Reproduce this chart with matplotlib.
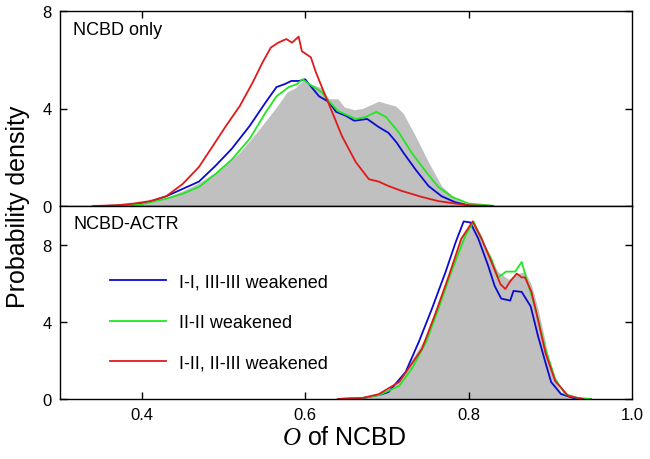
import matplotlib
matplotlib.use("Agg")
import matplotlib.pyplot as plt

plt.rcParams["font.family"] = ["Liberation Sans", "DejaVu Sans"]
plt.rcParams["mathtext.fontset"] = "custom"
plt.rcParams["mathtext.it"] = "Liberation Serif:italic"
plt.rcParams["mathtext.rm"] = "Liberation Sans"

GRAY = "#c0c0c0"
BLUE = "#0a0ad0"
GREEN = "#22e622"
RED = "#e01a1a"

# --- NCBD only (top panel) ---
top_gray_x = [0.36, 0.38, 0.40, 0.42, 0.45, 0.47, 0.49, 0.52, 0.544, 0.565, 0.578, 0.588, 0.597,
              0.607, 0.62, 0.629, 0.64, 0.648, 0.66, 0.67, 0.68, 0.69, 0.70, 0.711, 0.72, 0.735,
              0.751, 0.767, 0.784, 0.80, 0.82]
top_gray_y = [0, 0.02, 0.08, 0.22, 0.62, 0.95, 1.39, 2.2, 3.16, 4.06, 4.68, 4.85, 5.15,
              5.0, 4.85, 4.4, 4.4, 4.06, 3.95, 4.0, 4.15, 4.3, 4.2, 4.1, 3.8, 2.87,
              1.8, 0.82, 0.3, 0.05, 0]

top_blue_x = [0.35, 0.38, 0.40, 0.413, 0.43, 0.45, 0.47, 0.49, 0.51, 0.532, 0.552, 0.565, 0.575,
              0.583, 0.593, 0.6, 0.617, 0.629, 0.638, 0.65, 0.66, 0.676, 0.69, 0.702, 0.712, 0.72,
              0.735, 0.751, 0.767, 0.784, 0.80, 0.83]
top_blue_y = [0, 0.03, 0.1, 0.2, 0.4, 0.7, 1.0, 1.64, 2.34, 3.28, 4.27, 4.88, 5.0,
              5.13, 5.13, 5.2, 4.5, 4.27, 3.86, 3.7, 3.5, 3.57, 3.24, 3.0, 2.6, 2.2,
              1.5, 0.82, 0.4, 0.15, 0.03, 0]

top_green_x = [0.36, 0.40, 0.43, 0.45, 0.47, 0.49, 0.51, 0.532, 0.552, 0.565, 0.58, 0.59, 0.597,
               0.605, 0.62, 0.63, 0.64, 0.662, 0.674, 0.687, 0.699, 0.715, 0.73, 0.748, 0.763,
               0.78, 0.80, 0.83]
top_green_y = [0, 0.07, 0.3, 0.5, 0.78, 1.3, 1.9, 2.75, 3.86, 4.5, 4.88, 5.0, 5.2,
               5.0, 4.68, 4.27, 3.9, 3.57, 3.65, 3.86, 3.65, 3.0, 2.2, 1.4, 0.78,
               0.37, 0.1, 0.01]

top_red_x = [0.34, 0.37, 0.39, 0.41, 0.43, 0.45, 0.47, 0.487, 0.503, 0.52, 0.536, 0.548, 0.558,
             0.567, 0.577, 0.584, 0.592, 0.596, 0.607, 0.613, 0.625, 0.633, 0.645, 0.662, 0.678,
             0.69, 0.702, 0.718, 0.743, 0.763, 0.784, 0.80, 0.83]
top_red_y = [0, 0.03, 0.1, 0.2, 0.4, 0.9, 1.6, 2.46, 3.28, 4.1, 5.08, 5.9, 6.5,
             6.7, 6.85, 6.7, 6.95, 6.35, 6.1, 5.5, 4.5, 3.86, 2.87, 1.8, 1.1,
             1.0, 0.82, 0.62, 0.37, 0.2, 0.1, 0.03, 0]

# --- NCBD-ACTR (bottom panel) ---
bot_gray_x = [0.64, 0.67, 0.69, 0.715, 0.731, 0.748, 0.763, 0.776, 0.788, 0.80, 0.806, 0.816,
              0.824, 0.836, 0.849, 0.86, 0.869, 0.877, 0.885, 0.894, 0.901, 0.913, 0.93, 0.95]
bot_gray_y = [0, 0.05, 0.16, 0.88, 2.07, 3.26, 5.0, 6.4, 8.1, 9.0, 9.2, 8.45,
              7.4, 6.6, 6.2, 6.5, 6.6, 5.9, 4.66, 2.95, 1.4, 0.36, 0.05, 0]

bot_blue_x = [0.64, 0.67, 0.69, 0.702, 0.723, 0.739, 0.755, 0.772, 0.784, 0.794, 0.802, 0.812,
              0.824, 0.832, 0.84, 0.851, 0.855, 0.865, 0.876, 0.885, 0.894, 0.901, 0.913, 0.93, 0.95]
bot_blue_y = [0, 0.05, 0.2, 0.36, 1.4, 2.95, 4.66, 6.6, 8.1, 9.2, 9.15, 8.3,
              6.9, 5.85, 5.2, 5.1, 5.6, 5.55, 4.8, 3.26, 1.9, 0.88, 0.26, 0.03, 0]

bot_green_x = [0.64, 0.67, 0.69, 0.715, 0.731, 0.748, 0.763, 0.779, 0.796, 0.806, 0.82, 0.828,
               0.836, 0.846, 0.857, 0.865, 0.871, 0.882, 0.894, 0.906, 0.918, 0.935, 0.95]
bot_green_y = [0, 0.05, 0.2, 0.67, 1.6, 2.95, 4.66, 6.6, 8.45, 9.2, 7.9, 7.25,
               6.3, 6.6, 6.6, 7.1, 6.2, 4.66, 2.6, 1.04, 0.26, 0.03, 0]

bot_red_x = [0.64, 0.67, 0.69, 0.715, 0.743, 0.76, 0.776, 0.791, 0.805, 0.816, 0.828, 0.839,
             0.845, 0.851, 0.859, 0.865, 0.869, 0.877, 0.885, 0.894, 0.906, 0.922, 0.94]
bot_red_y = [0, 0.05, 0.25, 0.88, 2.6, 4.5, 6.4, 8.3, 9.2, 8.3, 7.1, 5.95,
             5.7, 6.1, 6.5, 6.3, 6.3, 5.55, 4.1, 2.4, 0.93, 0.16, 0]

labels = ["I-I, III-III weakened", "II-II weakened", "I-II, II-III weakened"]
x_ticks = [0.4, 0.6, 0.8]
x_ticklabels = ["0.4", "0.6", "0.8", "1.0"]

fig = plt.figure(figsize=(6.5, 4.6), dpi=100)
left, right = 60 / 650, 632 / 650
ax_top = fig.add_axes([left, 1 - 207 / 460, right - left, 195 / 460])
ax_bot = fig.add_axes([left, 1 - 400 / 460, right - left, 193 / 460])

lw = 1.3
ax_top.fill_between(top_gray_x, top_gray_y, color=GRAY, lw=0)
ax_top.plot(top_blue_x, top_blue_y, color=BLUE, lw=lw)
ax_top.plot(top_green_x, top_green_y, color=GREEN, lw=lw)
ax_top.plot(top_red_x, top_red_y, color=RED, lw=lw)

ax_bot.fill_between(bot_gray_x, bot_gray_y, color=GRAY, lw=0)
ax_bot.plot(bot_blue_x, bot_blue_y, color=BLUE, lw=lw, label=labels[0])
ax_bot.plot(bot_green_x, bot_green_y, color=GREEN, lw=lw, label=labels[1])
ax_bot.plot(bot_red_x, bot_red_y, color=RED, lw=lw, label=labels[2])

for ax in (ax_top, ax_bot):
    ax.set_xlim(0.3, 1.0)
    ax.set_xticks(x_ticks)
    ax.set_yticks([0, 4, 8])
    ax.tick_params(direction="in", length=5, width=1, labelsize=12, pad=6,
                   top=True, right=True)
    for s in ax.spines.values():
        s.set_linewidth(1.0)

ax_top.set_ylim(0, 8)
ax_top.tick_params(labelbottom=False, bottom=False)
ax_bot.set_ylim(0, 10)
ax_bot.tick_params(top=False)
ax_bot.set_xticks([0.4, 0.6, 0.8, 1.0])
ax_bot.set_xticklabels(x_ticklabels)
ax_bot.xaxis.get_major_ticks()[-1].tick1line.set_visible(False)
ax_bot.xaxis.get_major_ticks()[-1].tick2line.set_visible(False)

ax_top.text(0.023, 0.95, "NCBD only", transform=ax_top.transAxes, fontsize=13,
            va="top", ha="left")
ax_bot.text(0.023, 0.955, "NCBD-ACTR", transform=ax_bot.transAxes, fontsize=13,
            va="top", ha="left")

ax_bot.legend(loc="upper left", bbox_to_anchor=(0.075, 0.69), frameon=False,
              fontsize=13, handlelength=3.1, handletextpad=0.7, labelspacing=1.32,
              borderaxespad=0)

fig.text(0.028, 1 - 207 / 460, "Probability density", rotation=90, fontsize=18,
         ha="center", va="center")
fig.text(0.53, 1 - 438 / 460, r"$\mathit{O}$ of NCBD", fontsize=18,
         ha="center", va="center")

fig.savefig("out.png", dpi=100)
